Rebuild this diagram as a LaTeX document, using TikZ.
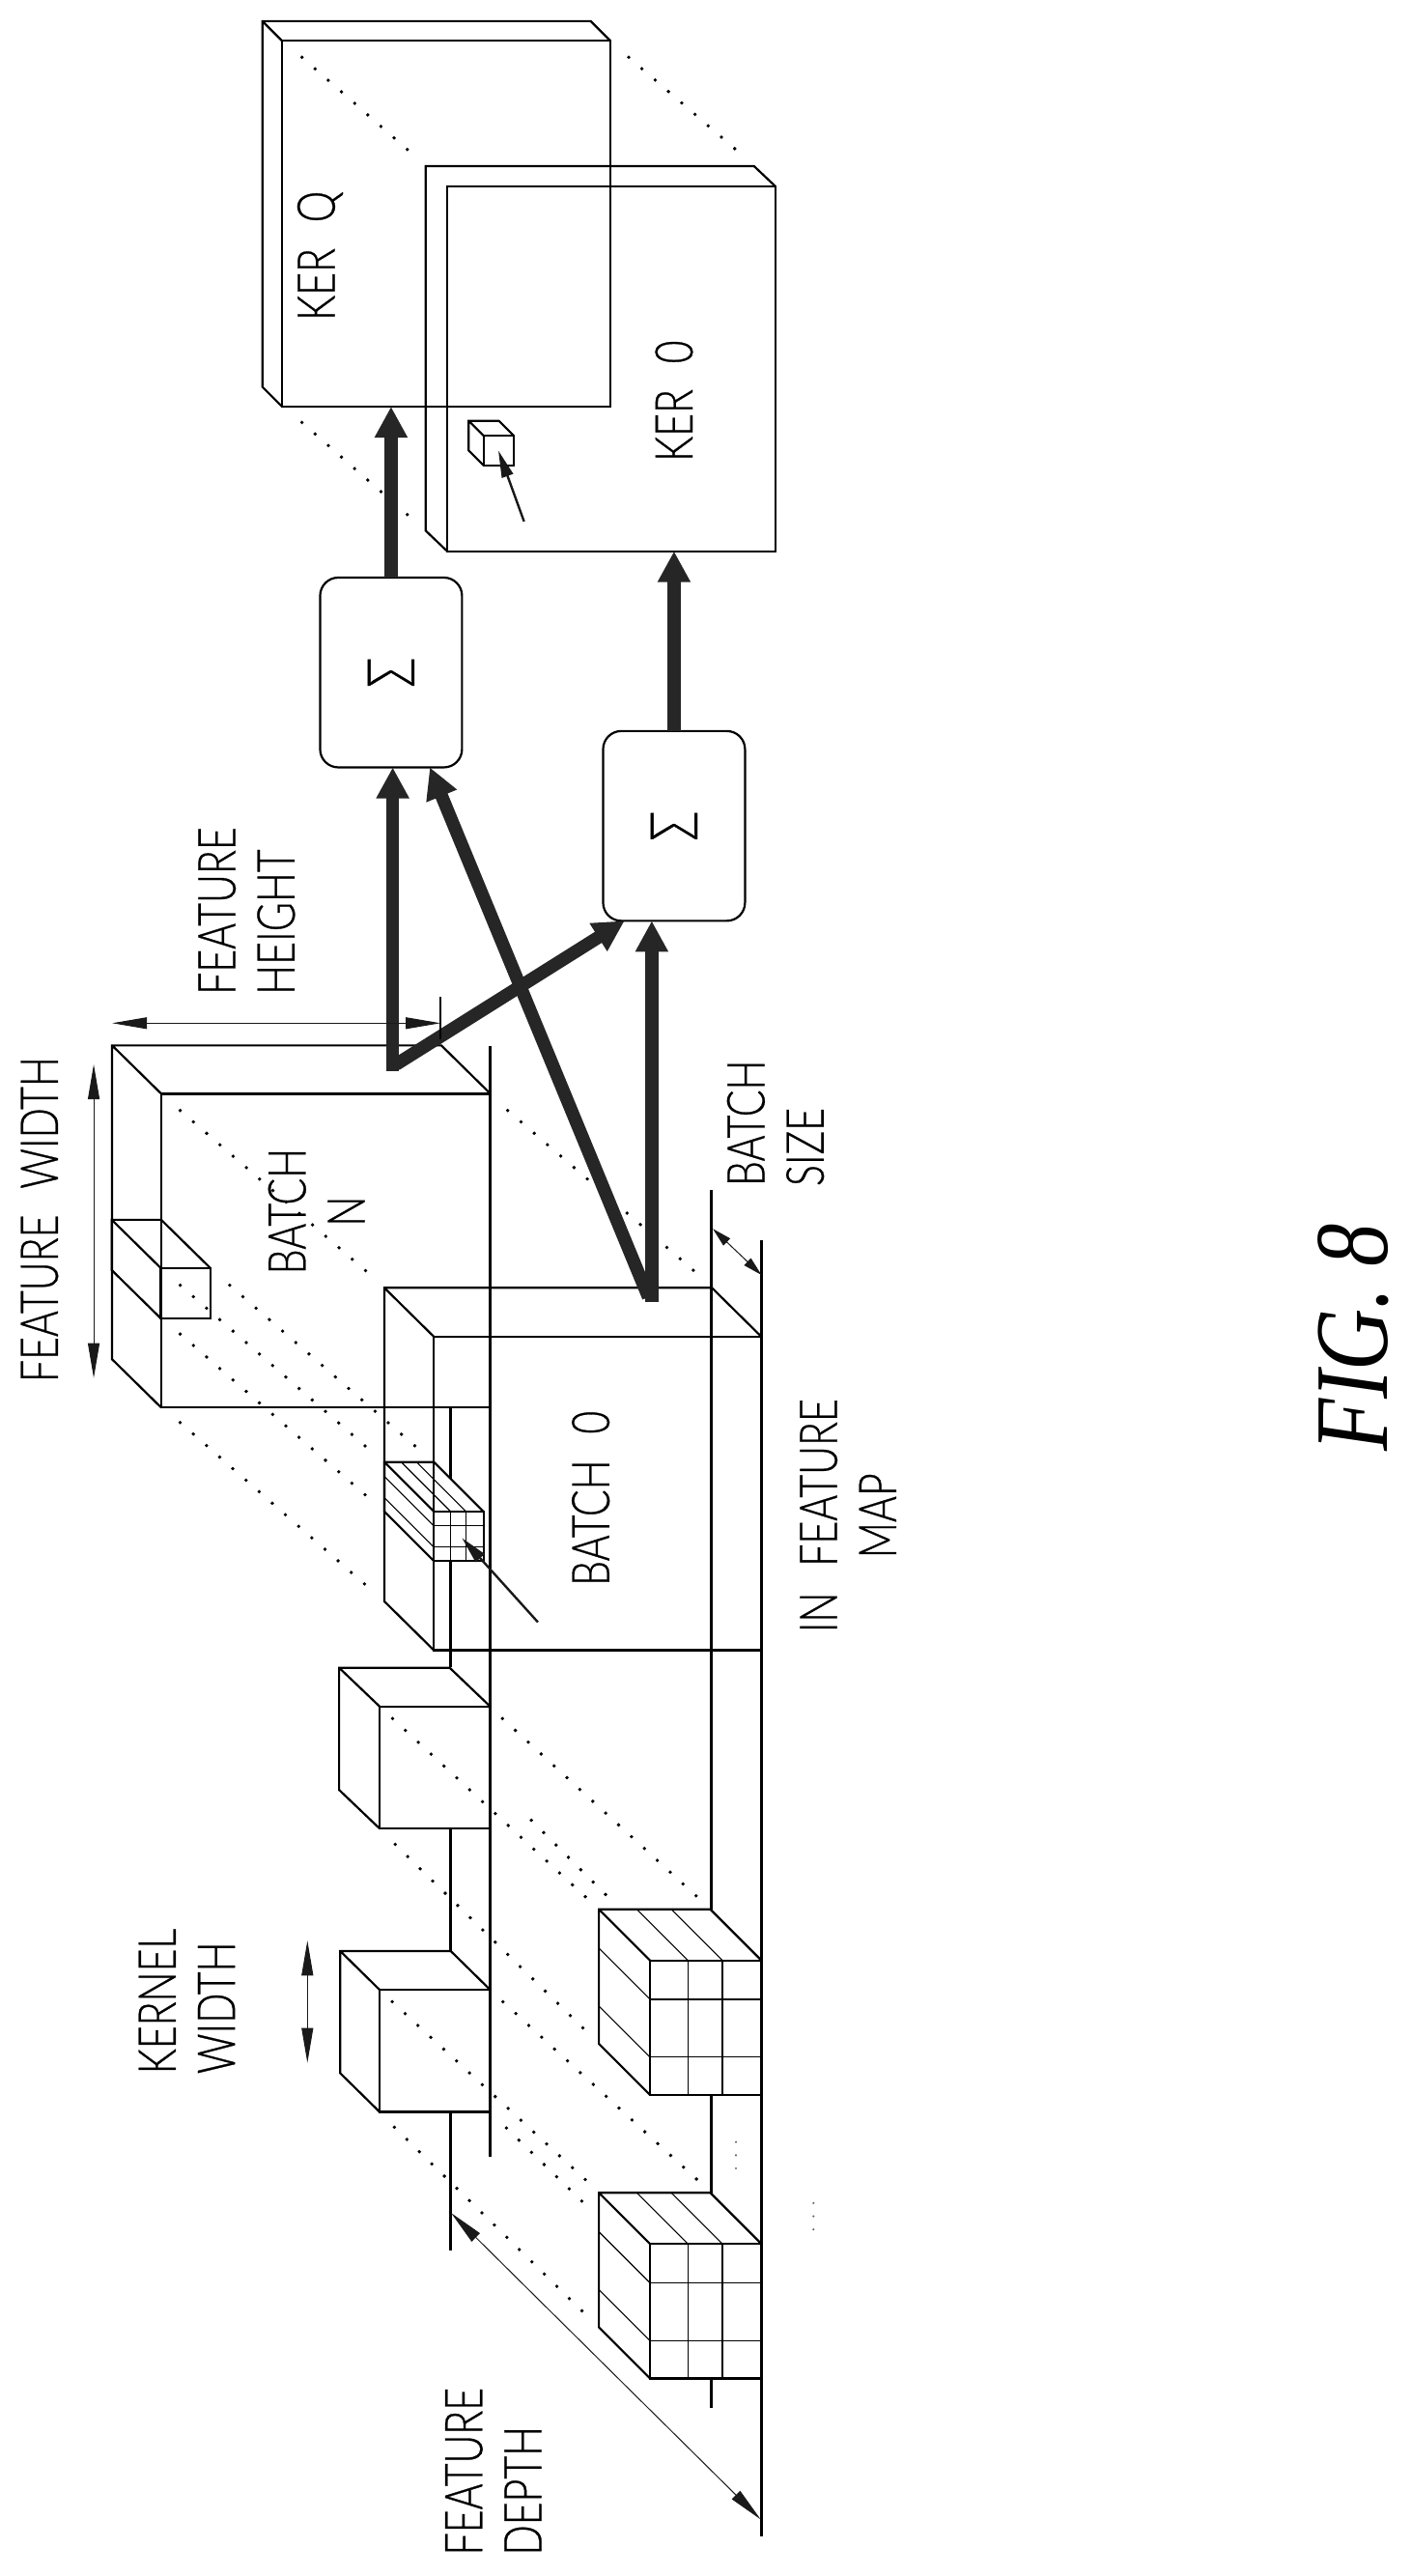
\documentclass[tikz,border=0pt]{standalone}
\usepackage{fontspec}
\usetikzlibrary{arrows.meta}
\usetikzlibrary{calc}
\newfontfamily\labfont[FakeStretch=0.76,WordSpace=2.4,FakeBold=0.5]{Lato Light}
\newfontfamily\figfont[FakeStretch=0.82,Ligatures=TeX]{Liberation Serif Italic}
\def\u{0.03cm}
\tikzset{plate/.style={draw,line width=1.1pt,inner sep=0pt,outer sep=0pt},
	sum node/.style={draw,line width=1.1pt,rounded corners=0.33cm,inner sep=0pt,outer sep=0pt,minimum width=86*\u,minimum height=115*\u},
	fat arrow/.style={-{Triangle[length=16pt,width=16pt]},line width=6.7pt,black!85},
	dim arrow/.style={{Triangle[length=18pt,width=6pt]}-{Triangle[length=18pt,width=6pt]},line width=0.5pt,black!90},
	short dim arrow/.style={{Triangle[length=10pt,width=5pt]}-{Triangle[length=10pt,width=5pt]},line width=0.5pt,black!90},
	point arrow/.style={-{Triangle[length=14pt,width=6pt]},line width=1.2pt,black!90},
	dot line/.style={line width=1.9pt,line cap=round,dash pattern=on 0pt off 9.05pt},
	label node/.style={rotate=90,inner sep=0pt,align=left,font=\labfont\fontsize{27}{30.6}\selectfont},
	grid line/.style={line width=0.55pt}}
\newcommand{\backedges}[3]{\draw[line width=1.1pt] (#1.north east) -- ++(-#2,-#3) -- ($(#1.north west)+(-#2,-#3)$) -- ($(#1.south west)+(-#2,-#3)$) -- (#1.south west) ($(#1.north west)+(-#2,-#3)$) -- (#1.north west);}
\begin{document}
\begin{tikzpicture}[x=\u,y=-\u]
	\useasboundingbox (0,0) rectangle (855,1561);
	% kernels
	\node[plate,minimum width=199*\u,minimum height=221.6*\u] (kerq) at (270.5,135.6) {};
	\node[plate,minimum width=199*\u,minimum height=221*\u] (kerzero) at (370.5,223.5) {};
	\node[plate,minimum width=18.3*\u,minimum height=18*\u] (tinycube) at (302.2,273) {};
	\backedges{kerq}{12}{12}
	\backedges{tinycube}{9}{9}
	\draw[line width=1.1pt] (kerzero.north east) -- ++(-13,-12.3) -- (258,100.7) -- (258,321.6) -- (kerzero.south west);

	% batches and the kernels cut out of them
	\node[plate,minimum width=199.5*\u,minimum height=190.2*\u] (batchn) at (197.5,757.9) {};
	\node[plate,minimum width=198.5*\u,minimum height=190*\u] (batchzero) at (362.2,905) {};
	\node[plate,minimum width=30*\u,minimum height=30.5*\u] (kerneln) at (112.5,783.7) {};
	\node[plate,minimum width=30*\u,minimum height=30*\u] (gridk) at (278,931) {};
	\node[plate,minimum width=67*\u,minimum height=74*\u] (cubeone) at (263.5,1071) {};
	\node[plate,minimum width=67*\u,minimum height=74*\u] (cubetwo) at (263.5,1242.7) {};
	\node[plate,minimum width=67.5*\u,minimum height=81.5*\u] (cubea) at (427.7,1228.7) {};
	\node[plate,minimum width=67.5*\u,minimum height=81.5*\u] (cubeb) at (427.7,1400.5) {};
	\backedges{batchn}{29.8}{29.3}
	\backedges{batchzero}{30}{29.6}
	\backedges{kerneln}{29.8}{29.3}
	\backedges{gridk}{30}{30}
	\backedges{cubeone}{24.5}{23.4}
	\backedges{cubetwo}{23.8}{23.4}
	\backedges{cubea}{31}{31}
	\backedges{cubeb}{31}{31}
	\foreach \c/\dx/\dy in {gridk/30/30,cubea/31/31,cubeb/31/31}{
		\foreach \f in {0.34,0.65}{
			\draw[grid line] ($(\c.north west)!\f!(\c.north east)$) -- ($(\c.south west)!\f!(\c.south east)$);
			\draw[grid line] ($(\c.north west)!\f!(\c.north east)$) -- ++(-\dx,-\dy);
		}
		\foreach \f in {0.29,0.72}{
			\draw[grid line] ($(\c.north west)!\f!(\c.south west)$) -- ($(\c.north east)!\f!(\c.south east)$);
			\draw[grid line] ($(\c.north west)!\f!(\c.south west)$) -- ++(-\dx,-\dy);
		}
	}

	% long edges of the feature map
	\foreach \x/\a/\b in {273/853/896,273/946/1010,273/1108/1182.5,273/1279.6/1363.6,297/634/1307,
		431/721/1157,431/1269.5/1329,431/1441/1459,461.5/751.6/1537}{
		\draw[line width=1.2pt] (\x,\a) -- (\x,\b);
	}

	% dots
	\foreach \ax/\ay/\bx/\by in {183/34.7/247/90.7,381/34.7/446/90.7,183/256/247/312,
		109.2/672.9/222/770.4,307.7/672.9/421/770.4,109.2/862/222/960.8,
		109.2/778.8/222/876.8,139.2/778.8/252.2/876.8,109.2/808.4/222/906.4,
		237.9/1041.4/355/1149.6,304.5/1041.4/422.7/1149.6,239.5/1117.6/353.4/1229,322/1103/367/1148,
		237.7/1213/355/1321,304.8/1213/422.7/1321,239/1289/353.4/1401,306.9/1289.5/352.8/1334}{
		\draw[dot line] (\ax,\ay) -- (\bx,\by);
	}
	\foreach \x/\y in {446/1298,446/1306,446/1314,493/1335,493/1343,493/1351}{
		\fill[black!60] (\x,\y) circle (0.7);
	}

	% adders and fat arrows
	\node[sum node] (sumq) at (237,407.5) {\rotatebox{90}{\labfont\fontsize{34}{34}\selectfont Σ}};
	\node[sum node] (sumzero) at (408.5,500.5) {\rotatebox{90}{\labfont\fontsize{34}{34}\selectfont Σ}};
	\coordinate (batchnout) at (238,649);
	\coordinate (batchnturn) at (240,645);
	\coordinate (batchzeroout) at (395,789);
	\coordinate (batchzeroturn) at (393,786);
	\draw[fat arrow] (sumq.north) -- (kerq.south -| sumq.north);
	\draw[fat arrow] (sumzero.north) -- (kerzero.south -| sumzero.north);
	\draw[fat arrow] (batchnout) -- (batchnout |- sumq.south);
	\draw[fat arrow] (batchnturn) -- ([xshift=-30*\u]sumzero.south);
	\draw[fat arrow] (batchzeroout) -- (batchzeroout |- sumzero.south);
	\draw[fat arrow] (batchzeroturn) -- ([xshift=23.5*\u]sumq.south);

	% thin dimension arrows
	\coordinate (fwa) at (56.8,645);
	\coordinate (fwb) at (56.8,835);
	\coordinate (fha) at (68,620);
	\coordinate (fhb) at (267,620);
	\coordinate (kwa) at (186.3,1176);
	\coordinate (kwb) at (186.3,1250);
	\coordinate (fda) at (273.4,1341);
	\coordinate (fdb) at (461,1526.7);
	\coordinate (bsa) at (432,744.6);
	\coordinate (bsb) at (461.5,772.6);
	\foreach \a/\b in {fwa/fwb,fha/fhb,kwa/kwb,fda/fdb}{
		\draw[dim arrow] (\a) -- (\b);
	}
	\draw[short dim arrow] (bsa) -- (bsb);
	\draw[line width=1.2pt] (267,604) -- (267,630);
	\coordinate (pointa) at (326,983);
	\coordinate (pointb) at (280,932);
	\coordinate (pointc) at (317.6,316);
	\coordinate (pointd) at (302,273);
	\draw[point arrow] (pointa) -- (pointb);
	\draw[point arrow] (pointc) -- (pointd);

	% labels
	\node[label node] (kerqtext) at (194,155) {KER Q};
	\node[label node] (kerzerotext) at (408.5,243) {KER 0};
	\node[label node,align=center] (batchntext) at (191.8,734) {BATCH\\N};
	\node[label node] (batchzerotext) at (358,908) {BATCH 0};
	\node[label node] (widthtext) at (24,739) {FEATURE WIDTH};
	\node[label node,anchor=west] (heighttext) at (149.5,603) {FEATURE\\HEIGHT};
	\node[label node,anchor=west] (kerneltext) at (113.2,1257) {KERNEL\\WIDTH};
	\node[label node,anchor=west] (depthtext) at (299,1548.6) {FEATURE\\DEPTH};
	\node[label node,anchor=west] (sizetext) at (470,719) {BATCH\\SIZE};
	\node[label node,align=center] (maptext) at (514,918.5) {IN FEATURE\\MAP};
	\node[rotate=90,inner sep=0pt,font=\figfont\fontsize{54}{54}\selectfont] (figtext) at (820,810.5) {FIG. 8};
\end{tikzpicture}
\end{document}
